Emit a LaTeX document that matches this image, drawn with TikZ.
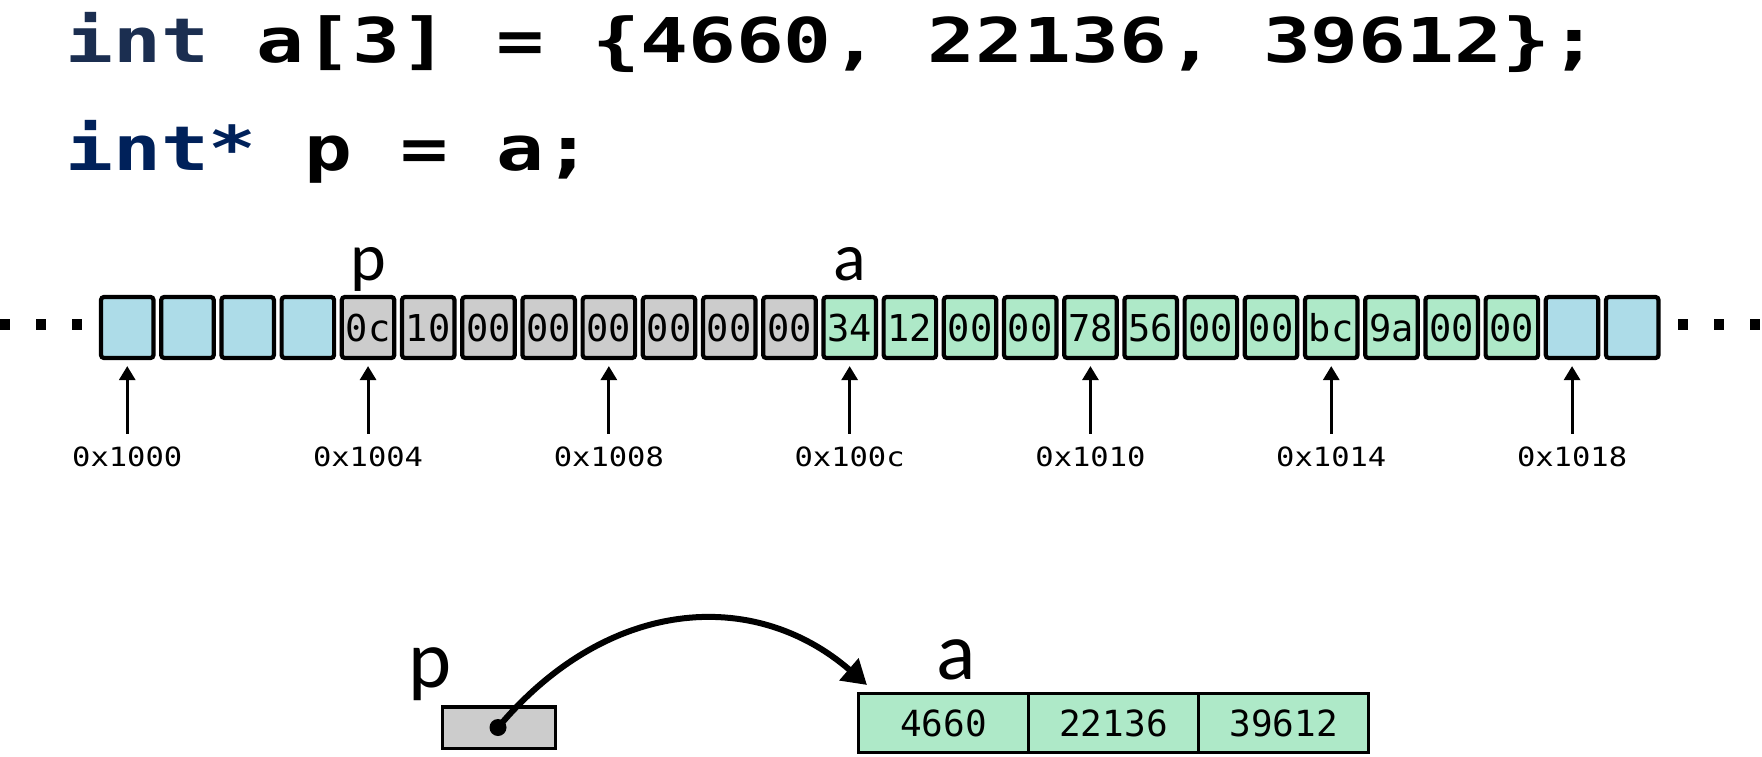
\documentclass[tikz,border=0pt]{standalone}
\usepackage{fontspec}
\setmainfont{Carlito}
\newfontfamily\codefont[FakeStretch=1.29]{DejaVu Sans Mono}
\newfontfamily\bytefont{DejaVu Sans Mono}
\newfontfamily\addrfont[FakeStretch=1.15]{DejaVu Sans Mono}
\definecolor{MemBlue}{RGB}{173,220,232}
\definecolor{MemGray}{RGB}{204,204,204}
\definecolor{MemGreen}{RGB}{174,233,200}
\definecolor{IntBlue}{RGB}{27,46,80}
\definecolor{PtrBlue}{RGB}{0,33,90}
\usepackage{tikz}
\usetikzlibrary{positioning,arrows.meta}
\tikzset{>={Triangle[length=14pt,width=16pt]}}

\begin{document}
\begin{tikzpicture}[x=1pt,y=-1pt,
        code/.style={inner sep=0pt,font=\codefont\bfseries\fontsize{61.7}{70}\selectfont},
        byte/.style={draw,line width=4.2pt,rounded corners=3pt,minimum width=52.5pt,minimum height=61pt,
            inner sep=0pt,text height=27pt,text depth=0pt,font=\bytefont\fontsize{37}{37}\selectfont},
        addr/.style={inner xsep=0pt,inner ysep=13pt,text height=19pt,text depth=0pt,
            font=\addrfont\fontsize{26.5}{26.5}\selectfont},
        elem/.style={draw,line width=3pt,fill=MemGreen,minimum width=170pt,minimum height=59pt,
            inner sep=0pt,font=\bytefont\fontsize{36}{36}\selectfont},
        varname/.style={anchor=base,inner sep=0pt}]
        \useasboundingbox (0,0) rectangle (1762,757);
        % source code
        \node[code,anchor=base west] (decl) at (65,63) {{\color{IntBlue}int} a[3] = \{4660, 22136, 39612\};};
        \node[code,anchor=base west] (ptr) at (65,171) {{\color{PtrBlue}int*} p = a;};
        % memory bytes
        \foreach \i in {0,1,2,3,24,25}
            \node[byte,fill=MemBlue] (m\i) at ({127.25+60.2*\i},327.5) {};
        \foreach \v [count=\i from 4] in {0c,10,00,00,00,00,00,00}
            \node[byte,fill=MemGray] (m\i) at ({127.25+60.2*\i},327.5) {\v};
        \foreach \v [count=\i from 12] in {34,12,00,00,78,56,00,00,bc,9a,00,00}
            \node[byte,fill=MemGreen] (m\i) at ({127.25+60.2*\i},327.5) {\v};
        \foreach \x in {4.5,40.5,76.5,1682.5,1718.5,1754.5}
            \fill (\x-5,318.5) rectangle (\x+5,329.5);
        \node[varname,font=\fontsize{68}{68}\selectfont] (pmem) at (m4.center |- 0,280) {p};
        \node[varname,font=\fontsize{68}{68}\selectfont] (amem) at (m12.center |- 0,280) {a};
        % addresses
        \foreach \i/\a in {0/1000,4/1004,8/1008,12/100c,16/1010,20/1014,24/1018} {
            \node[addr] (ad\i) at (m\i.center |- 0,456.5) {0x\a};
            \draw[->,line width=3pt,shorten >=6pt] (ad\i) -- (m\i);
        }
        % boxes and arrows
        \node[draw,line width=3.5pt,fill=MemGray,minimum width=113pt,minimum height=41.5pt] (pbox) at (499,727.5) {};
        \node[circle,fill=black,inner sep=0pt,minimum size=17pt] (pdot) at (498,727.5) {};
        \node[varname,font=\fontsize{82}{82}\selectfont] (pname) at (430,687) {p};
        \foreach \v [count=\i from 0] in {4660,22136,39612}
            \node[elem] (a\i) at ({943.5+170*\i},723) {\v};
        \node[varname,font=\fontsize{82}{82}\selectfont] (aname) at (956,679) {a};
        \coordinate (atip) at (867,685);
        \draw[line width=6pt,-{Triangle[length=24pt,width=28pt]}] (pdot.center) .. controls +(109,-130) and +(-113,-98) .. (atip);
    \end{tikzpicture}
\end{document}
